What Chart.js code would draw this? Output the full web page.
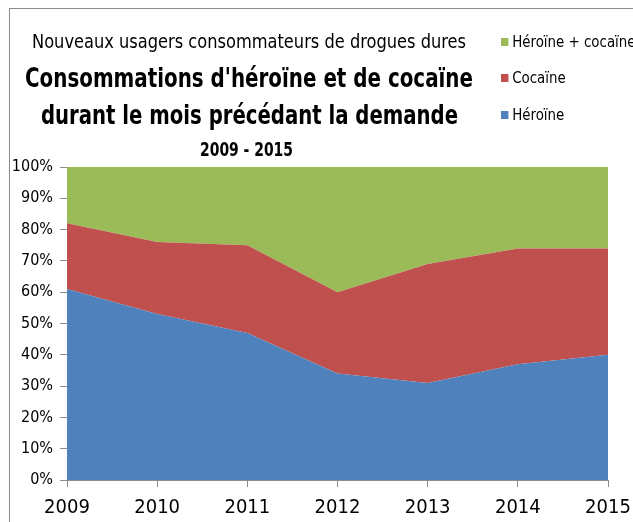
<!DOCTYPE html>
<html>
<head>
<meta charset="utf-8">
<script src="https://cdn.jsdelivr.net/npm/chart.js@4"></script>
<style>
  html, body { margin: 0; padding: 0; background: #fff; overflow: hidden; }
  body { width: 633px; height: 522px; position: relative; font-family: "DejaVu Sans Condensed", "Liberation Sans", sans-serif; }
  #frame { position: absolute; left: 9px; top: 8px; width: 700px; height: 600px; border: 1px solid #8c8c8c; }
  #chart { position: absolute; left: 0; top: 0; }
  .t { position: absolute; color: #000; white-space: nowrap; transform-origin: 0 0; }
  #sub   { top: 30px;  font-size: 19px; }
  #main1 { top: 62px;  font-size: 27px; font-weight: bold; }
  #main2 { top: 99px;  font-size: 27px; font-weight: bold; }
  #years { top: 137px; font-size: 20px; font-weight: bold; }
  #legend { position: absolute; left: 501px; top: 32px; font-size: 16px; }
  #legend div { position: absolute; left: 0; white-space: nowrap; transform-origin: 0 0; transform: scaleX(0.93); }
  #legend span.sw { display: inline-block; width: 8px; height: 8px; margin-right: 4px; vertical-align: 1px; }
</style>
</head>
<body>
<div id="frame"></div>
<canvas id="chart" width="633" height="522"></canvas>
<div class="t" id="sub">Nouveaux usagers consommateurs de drogues dures</div>
<div class="t" id="main1">Consommations d'héroïne et de cocaïne</div>
<div class="t" id="main2">durant le mois précédant la demande</div>
<div class="t" id="years">2009 - 2015</div>
<div id="legend"></div>
<script>
/* ---------------- données ---------------- */
const years      = ['2009', '2010', '2011', '2012', '2013', '2014', '2015'];
const heroine    = [61, 53, 47, 34, 31, 37, 40];
const cocaine    = [21, 23, 28, 26, 38, 37, 34];
const heroCoca   = [18, 24, 25, 40, 31, 26, 26];
const yTicks     = [0, 10, 20, 30, 40, 50, 60, 70, 80, 90, 100];

/* ---------------- couleurs ---------------- */
const BLUE  = '#4f81bd';
const RED   = '#c0504d';
const GREEN = '#9bbb59';

const series = [
  { label: 'Héroïne',           data: heroine,  color: BLUE,  fill: 'origin' },
  { label: 'Cocaïne',           data: cocaine,  color: RED,   fill: '-1' },
  { label: 'Héroïne + cocaïne', data: heroCoca, color: GREEN, fill: '-1' }
];

/* ---------------- titres : largeur type Calibri ---------------- */
// [id, left, width]
[['sub', 32, 434], ['main1', 25, 448], ['main2', 41, 417], ['years', 200, 93]].forEach(([id, x, w]) => {
  const el = document.getElementById(id);
  const natural = el.getBoundingClientRect().width;
  el.style.left = x + 'px';
  el.style.transform = `scaleX(${w / natural})`;
});

/* ---------------- légende (HTML) ---------------- */
const legendEl = document.getElementById('legend');
const legendTops = [0, 36, 73];
series.slice().reverse().forEach((s, i) => {
  const d = document.createElement('div');
  d.style.top = legendTops[i] + 'px';
  d.innerHTML = `<span class="sw" style="background:${s.color}"></span>${s.label}`;
  legendEl.appendChild(d);
});

/* ---------------- graphique ---------------- */
const FONT = "'DejaVu Sans Condensed', 'Liberation Sans', sans-serif";
new Chart(document.getElementById('chart'), {
  type: 'line',
  data: {
    labels: years,
    datasets: series.map(s => ({
      label: s.label,
      data: s.data,
      backgroundColor: s.color,
      borderColor: s.color,
      borderWidth: 0,
      pointRadius: 0,
      fill: s.fill,
      tension: 0
    }))
  },
  options: {
    responsive: false,
    animation: false,
    layout: { padding: { top: 167, right: 25, left: 0, bottom: 0 } },
    plugins: { legend: { display: false }, tooltip: { enabled: false } },
    scales: {
      x: {
        offset: false,
        grid: { drawOnChartArea: false, drawTicks: true, tickLength: 7, color: '#8c8c8c' },
        border: { color: '#8c8c8c' },
        ticks: { color: '#000', font: { family: FONT, size: 20 }, padding: 9, maxRotation: 0 },
        afterFit: s => { s.height = 42; s.paddingLeft = 0; s.paddingRight = 0; }
      },
      y: {
        stacked: true,
        min: 0,
        max: 100,
        afterBuildTicks: s => { s.ticks = yTicks.map(v => ({ value: v })); },
        grid: { drawOnChartArea: false, drawTicks: true, tickLength: 7, color: '#8c8c8c' },
        border: { color: '#8c8c8c' },
        ticks: { color: '#000', font: { family: FONT, size: 16 }, padding: 7, callback: v => v + '%' },
        afterFit: s => { s.width = 67; }
      }
    }
  }
});
</script>
</body>
</html>
